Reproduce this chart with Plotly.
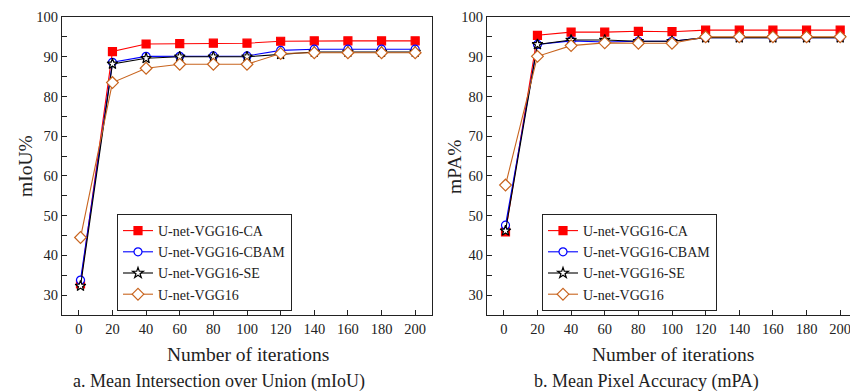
import plotly.graph_objects as go

iterations = [1, 20, 40, 60, 80, 100, 120, 140, 160, 180, 200]

miou_ca   = [32.8, 91.3, 93.2, 93.3, 93.4, 93.4, 93.9, 94.0, 94.0, 94.0, 94.0]
miou_cbam = [33.8, 88.6, 90.1, 90.1, 90.2, 90.2, 91.6, 91.9, 91.9, 91.9, 91.9]
miou_se   = [32.3, 88.2, 89.6, 90.0, 90.0, 90.0, 90.6, 91.2, 91.2, 91.2, 91.2]
miou_base = [44.5, 83.5, 87.1, 88.1, 88.1, 88.1, 90.8, 91.0, 91.0, 91.0, 91.0]

mpa_ca   = [45.9, 95.4, 96.2, 96.2, 96.4, 96.3, 96.7, 96.7, 96.7, 96.7, 96.7]
mpa_cbam = [47.6, 93.1, 94.0, 93.7, 93.9, 93.9, 94.8, 94.8, 94.8, 94.8, 94.8]
mpa_se   = [46.2, 93.1, 94.2, 94.2, 93.9, 93.9, 94.8, 94.8, 94.8, 94.8, 94.8]
mpa_base = [57.7, 90.1, 92.8, 93.5, 93.4, 93.4, 95.0, 95.0, 95.0, 95.0, 95.0]

names = ["U-net-VGG16-CA", "U-net-VGG16-CBAM", "U-net-VGG16-SE", "U-net-VGG16"]
colors = ["#FF0000", "#0000FF", "#000000", "#C8641E"]
symbols = ["square", "circle", "star", "diamond"]
sizes = [8, 8, 8, 9]
fills = ["#FF0000", "white", "white", "white"]

x_ticks = [0, 20, 40, 60, 80, 100, 120, 140, 160, 180, 200]
y_ticks = [30, 40, 50, 60, 70, 80, 90, 100]

SERIF = "Liberation Serif"
W, H = 850, 392

fig = go.Figure()

panels = [
    ([miou_ca, miou_cbam, miou_se, miou_base], "x", "y", "legend"),
    ([mpa_ca, mpa_cbam, mpa_se, mpa_base], "x2", "y2", "legend2"),
]
for series, xa, ya, lg in panels:
    for i, vals in enumerate(series):
        fig.add_trace(go.Scatter(
            x=iterations, y=vals, name=names[i], mode="lines+markers",
            xaxis=xa, yaxis=ya, legend=lg,
            line=dict(color=colors[i], width=1.1),
            marker=dict(symbol=symbols[i], size=sizes[i], color=fills[i],
                        line=dict(color=colors[i], width=1.2)),
        ))

# pixel geometry
top, bottom = 17, 315
left1, right1 = 62, 432
left2 = 487
px_per_unit = (right1 - left1) / 220.0
x2_max = -10 + (W - left2) / px_per_unit

ydom = [1 - bottom / H, 1 - top / H]

axis_common = dict(
    showgrid=False, zeroline=False, showline=True, linecolor="#222", linewidth=1.2,
    ticks="inside", ticklen=5, tickwidth=1, tickcolor="#222",
    tickfont=dict(family=SERIF, size=14.5, color="#222"), automargin=False,
    ticklabeloverflow="allow",
)

legend_top = 214

fig.update_layout(
    width=W, height=H, margin=dict(l=0, r=0, t=0, b=0),
    paper_bgcolor="white", plot_bgcolor="white", template="none",
    font=dict(family=SERIF, color="#222"),
    showlegend=True,
    xaxis=dict(domain=[left1 / W, right1 / W], range=[-10, 210], anchor="y",
               tickvals=x_ticks, mirror=True, **axis_common),
    yaxis=dict(domain=ydom, range=[25, 100], anchor="x", tickvals=y_ticks,
               mirror=True, minor=dict(dtick=5, ticks="inside", ticklen=5, tickcolor="#222"),
               **axis_common),
    xaxis2=dict(domain=[left2 / W, 1.0], range=[-10, x2_max], anchor="y2",
                tickvals=x_ticks, mirror=True, **axis_common),
    yaxis2=dict(domain=ydom, range=[25, 100], anchor="x2", tickvals=y_ticks,
                mirror=False, minor=dict(dtick=5, ticks="inside", ticklen=5, tickcolor="#222"),
                **axis_common),
    legend=dict(x=117 / W, y=1 - legend_top / H, xanchor="left", yanchor="top",
                bgcolor="white", bordercolor="#222", borderwidth=1,
                font=dict(family=SERIF, size=14, color="#222"),
                tracegroupgap=0, itemwidth=30),
    legend2=dict(x=542 / W, y=1 - legend_top / H, xanchor="left", yanchor="top",
                 bgcolor="white", bordercolor="#222", borderwidth=1,
                 font=dict(family=SERIF, size=14, color="#222"),
                 tracegroupgap=0, itemwidth=30),
)

ann_font_title = dict(family=SERIF, size=19.5, color="#222")
ann_font_cap = dict(family=SERIF, size=18, color="#222")
annotations = [
    dict(text="mIoU%", x=25 / W, y=1 - 166 / H, textangle=-90, font=ann_font_title),
    dict(text="mPA%", x=455 / W, y=1 - 167 / H, textangle=-90, font=ann_font_title),
    dict(text="Number of iterations", x=247.5 / W, y=1 - 354 / H, font=ann_font_title),
    dict(text="Number of iterations", x=673 / W, y=1 - 354 / H, font=ann_font_title),
    dict(text="a. Mean Intersection over Union (mIoU)", x=219 / W, y=1 - 381 / H, font=ann_font_cap),
    dict(text="b. Mean Pixel Accuracy (mPA)", x=646 / W, y=1 - 381 / H, font=ann_font_cap),
]
for a in annotations:
    fig.add_annotation(xref="paper", yref="paper", showarrow=False,
                       xanchor="center", yanchor="middle", **a)

fig.write_html("out.html")
